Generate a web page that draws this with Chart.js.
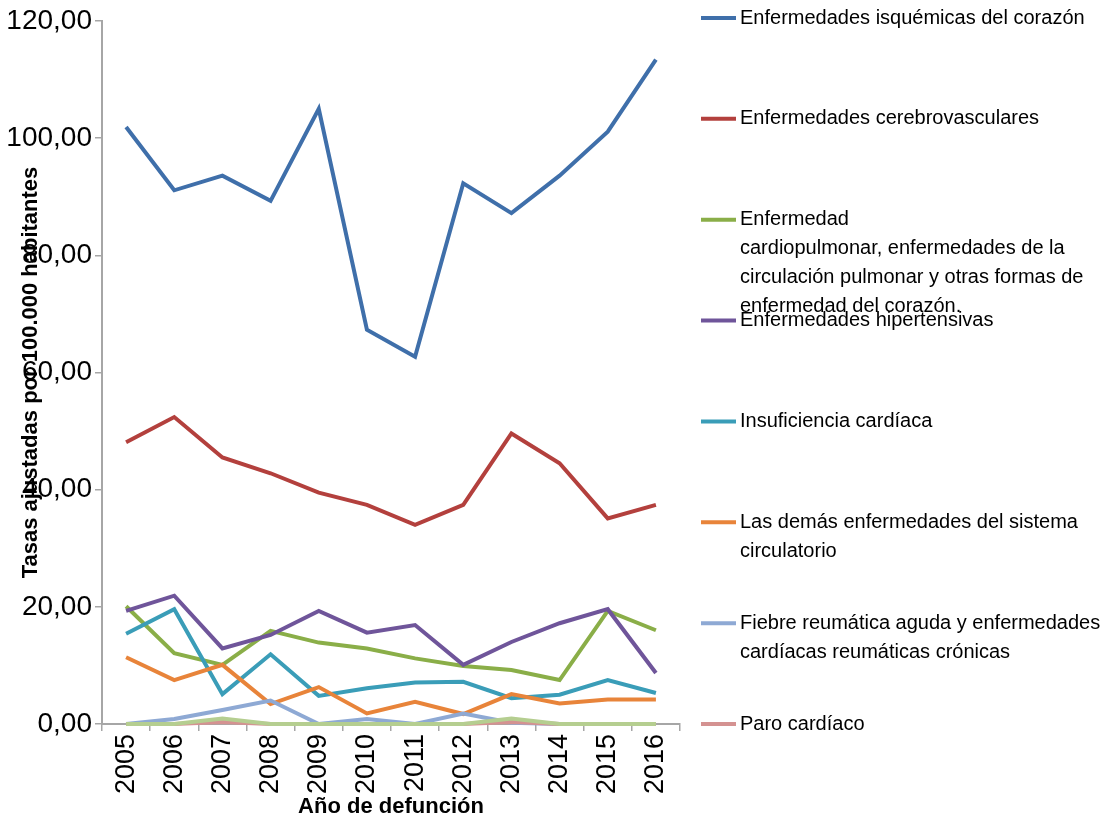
<!DOCTYPE html>
<html>
<head>
<meta charset="utf-8">
<script src="https://cdn.jsdelivr.net/npm/chart.js@4"></script>
<style>
  body { margin: 0; background: #fff; }
  #wrap { width: 1113px; height: 820px; position: relative; }
</style>
</head>
<body>
<div id="wrap"><canvas id="grafico"></canvas></div>
<script>
// Años
const anios = ["2005","2006","2007","2008","2009","2010","2011","2012","2013","2014","2015","2016"];

// Tasas por serie
const isquemicas    = [101.9, 91.1, 93.6, 89.3, 105.0, 67.3, 62.7, 92.3, 87.2, 93.6, 101.1, 113.4];
const cerebro       = [48.1, 52.4, 45.5, 42.8, 39.5, 37.4, 34.0, 37.4, 49.6, 44.5, 35.1, 37.4];
const cardiopulmon  = [20.1, 12.1, 10.1, 15.9, 13.9, 12.9, 11.2, 9.9, 9.2, 7.5, 19.3, 16.0];
const hipertensivas = [19.3, 21.9, 12.9, 15.2, 19.3, 15.6, 16.9, 10.1, 14.0, 17.2, 19.6, 8.7];
const insuficiencia = [15.4, 19.6, 5.1, 11.9, 4.8, 6.1, 7.1, 7.2, 4.4, 5.0, 7.5, 5.3];
const lasDemas      = [11.4, 7.5, 10.1, 3.4, 6.3, 1.8, 3.8, 1.7, 5.1, 3.5, 4.2, 4.2];
const fiebre        = [0, 0.85, 2.4, 4.0, 0, 0.85, 0, 1.8, 0.2, 0, 0, 0];
const paro          = [0, 0, 0.35, 0, 0, 0, 0, 0, 0.35, 0, 0, 0];
const sinNombre     = [0, 0, 0.95, 0, 0, 0, 0, 0, 0.95, 0, 0, 0];

const yTicks = ["0,00","20,00","40,00","60,00","80,00","100,00","120,00"];

// Nombres de la leyenda (con los cortes de línea del original)
const nombres = [
  ["Enfermedades isquémicas del corazón"],
  ["Enfermedades cerebrovasculares"],
  ["Enfermedad", "cardiopulmonar, enfermedades de la", "circulación pulmonar y otras formas de", "enfermedad del corazón."],
  ["Enfermedades hipertensivas"],
  ["Insuficiencia cardíaca"],
  ["Las demás enfermedades del sistema", "circulatorio"],
  ["Fiebre reumática aguda y enfermedades", "cardíacas reumáticas crónicas"],
  ["Paro cardíaco"],
  [""]
];
const series = [isquemicas, cerebro, cardiopulmon, hipertensivas, insuficiencia, lasDemas, fiebre, paro, sinNombre];
const colores = ["#3F6FAA", "#B3403D", "#8AAE48", "#6F559A", "#3A9DB8", "#E8843A", "#8EA9D4", "#D49291", "#B5CE90"];

const FUENTE = "'Liberation Sans', Arial, sans-serif";

// Leyenda a la derecha, dibujada a mano
const leyendaPlugin = {
  id: "leyenda",
  afterDraw(chart) {
    const ctx = chart.ctx;
    const area = chart.chartArea;
    const y0 = area.top - 3;
    const paso = (area.bottom - y0) / 7;
    ctx.save();
    ctx.font = "20px " + FUENTE;
    ctx.textBaseline = "middle";
    ctx.textAlign = "left";
    for (let i = 0; i < 8; i++) {
      const y = y0 + i * paso;
      ctx.strokeStyle = colores[i];
      ctx.lineWidth = 4;
      ctx.beginPath();
      ctx.moveTo(701, y);
      ctx.lineTo(736, y);
      ctx.stroke();
      ctx.fillStyle = "#000";
      nombres[i].forEach((linea, k) => ctx.fillText(linea, 740, y + k * 29));
    }
    ctx.restore();
  }
};

const ctx = document.getElementById("grafico").getContext("2d");
new Chart(ctx, {
  type: "line",
  data: {
    labels: anios,
    datasets: series.map((d, i) => ({
      label: nombres[i].join(" "),
      data: d,
      borderColor: colores[i],
      backgroundColor: colores[i],
      borderWidth: 4,
      pointRadius: 0,
      tension: 0,
      clip: false,
      order: series.length - i
    }))
  },
  options: {
    responsive: true,
    maintainAspectRatio: false,
    animation: false,
    layout: { padding: { top: 21, right: 433, bottom: 0, left: 0 } },
    plugins: { legend: { display: false }, tooltip: { enabled: false } },
    scales: {
      x: {
        offset: true,
        grid: { display: true, offset: true, drawOnChartArea: false, drawTicks: true, tickLength: 7, color: "#a6a6a6", lineWidth: 1.5 },
        border: { color: "#a6a6a6", width: 2 },
        ticks: { autoSkip: false, minRotation: 90, maxRotation: 90, padding: 3, color: "#000", font: { family: FUENTE, size: 27 } },
        title: { display: true, text: "Año de defunción", color: "#000", padding: { top: 0, bottom: 0 }, font: { family: FUENTE, size: 22, weight: "bold" } },
        afterFit: s => { s.height = 96; }
      },
      y: {
        min: 0,
        max: 120,
        grid: { display: true, drawOnChartArea: false, drawTicks: true, tickLength: 7, color: "#a6a6a6", lineWidth: 1.5 },
        border: { color: "#a6a6a6", width: 2 },
        ticks: {
          stepSize: 20,
          padding: 3,
          color: "#000",
          font: { family: FUENTE, size: 28 },
          callback: (v, idx) => yTicks[idx]
        },
        title: { display: true, text: "Tasas ajustadas por 100.000 habitantes", color: "#000", padding: { top: 18, bottom: 0 }, font: { family: FUENTE, size: 22, weight: "bold" } },
        afterFit: s => { s.width = 102; }
      }
    }
  },
  plugins: [leyendaPlugin]
});
</script>
</body>
</html>
